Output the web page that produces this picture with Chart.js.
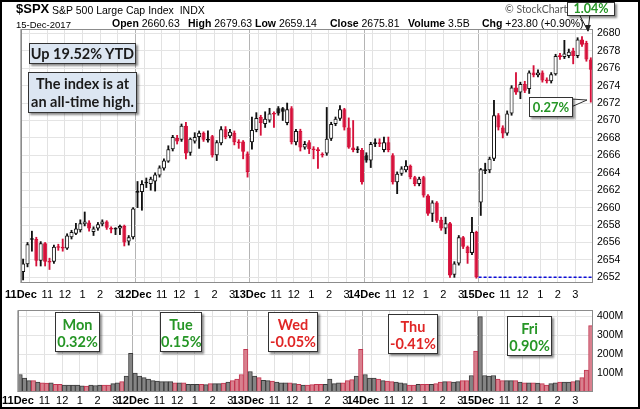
<!DOCTYPE html>
<html>
<head>
<meta charset="utf-8">
<script src="https://cdn.jsdelivr.net/npm/chart.js@4.4.1/dist/chart.umd.min.js"></script>
<style>
html, body { margin: 0; padding: 0; background: #fff; }
#wrap { position: relative; width: 640px; height: 409px; overflow: hidden; font-family: 'Liberation Sans', Arial, sans-serif; color: #000; }
#frame { position: absolute; left: 0; top: 0; width: 636px; height: 405px; border: 2px solid #000; pointer-events: none; }
canvas { position: absolute; left: 0; }
.t { position: absolute; white-space: nowrap; line-height: 1; }
.t b { font-weight: bold; }
.box { position: absolute; background: #fff; border: 1px solid #333; box-shadow: 2px 2px 2px rgba(0,0,0,.45);
       font-family: Lato, sans-serif; font-weight: bold; text-align: center; box-sizing: border-box; white-space: nowrap; }
.blue { background: #dce6f2; color: #1a1a1a; font-size: 14.5px; }
.day { font-size: 14.5px; line-height: 17px; padding-top: 3px; }
.up { color: #269626; }
.down { color: #e02626; }
svg { position: absolute; left: 0; top: 0; }
</style>
</head>
<body>
<div id="wrap">
  <canvas id="priceChart" width="640" height="300" style="top:0"></canvas>
  <canvas id="volChart" width="640" height="109" style="top:300px"></canvas>

  <div class="t" style="left:16px;top:2px;font-size:13px;font-weight:bold">$SPX</div>
  <div class="t" style="left:52px;top:4.5px;font-size:10.5px">S&amp;P 500 Large Cap Index&nbsp; INDX</div>
  <div class="t" style="left:16px;top:19.5px;font-size:9.5px">15-Dec-2017</div>
  <div class="t" style="left:112px;top:18px;font-size:10.5px"><b>Open</b> 2660.63</div>
  <div class="t" style="left:188px;top:18px;font-size:10.5px"><b>High</b> 2679.63</div>
  <div class="t" style="left:255px;top:18px;font-size:10.5px"><b>Low</b> 2659.14</div>
  <div class="t" style="left:330px;top:18px;font-size:10.5px"><b>Close</b> 2675.81</div>
  <div class="t" style="left:408px;top:18px;font-size:10.5px"><b>Volume</b> 3.5B</div>
  <div class="t" style="left:482px;top:18px;font-size:10.5px"><b>Chg</b> +23.80 (+0.90%)</div>
  <div class="t" style="left:505px;top:4px;font-size:10.5px;font-family:Lato,sans-serif;color:#555">&copy; StockCharts.com</div>

  <svg width="640" height="409">
    <polygon points="579,14 590,14 588,31" fill="#fff" stroke="#222" stroke-width="1"/>
    <polygon points="585,25 591,25 588,32" fill="#222"/>
    <polygon points="571,99 587,100 571,107" fill="#fff" stroke="#333" stroke-width="1"/>
  </svg>

  <div class="box up" style="left:567px;top:2px;width:48px;height:14px;font-size:12.5px;line-height:12px">1.04%</div>
  <div class="box up" style="left:529px;top:97px;width:44px;height:20px;font-size:13px;line-height:18px">0.27%</div>

  <div class="box blue" style="left:29px;top:43px;width:107px;height:21px;line-height:19px">Up 19.52% YTD</div>
  <div class="box blue" style="left:28px;top:72px;width:109px;height:41px;line-height:18px;padding-top:2px">The index is at<br>an all-time high.</div>

  <div class="box day up" style="left:55px;top:312px;width:45px;height:40px">Mon<br>0.32%</div>
  <div class="box day up" style="left:160px;top:312px;width:42px;height:40px">Tue<br>0.15%</div>
  <div class="box day down" style="left:268px;top:312px;width:50px;height:40px">Wed<br>-0.05%</div>
  <div class="box day down" style="left:388px;top:314px;width:50px;height:40px">Thu<br>-0.41%</div>
  <div class="box day up" style="left:507px;top:316px;width:45px;height:40px">Fri<br>0.90%</div>

  <div id="frame"></div>
</div>

<script>
// 15-minute bars, 26 per session, 11-15 Dec 2017
const priorClose = 2651.50;   // Friday 8 Dec close

const opens = [
    2652.6, 2653.5, 2656.3, 2656.4, 2653.9, 2655.9, 2653.9, 2653.8, 2655.5, 2655.5, 2655.3, 2656.6, 2657.0,
    2657.4, 2658.1, 2658.3, 2657.2, 2657.6, 2658.1, 2658.4, 2657.7, 2657.6, 2657.6, 2657.9, 2656.1, 2656.6,
    2661.7, 2661.8, 2662.8, 2662.7, 2663.0, 2663.7, 2664.5, 2665.3, 2666.7, 2668.0, 2667.8, 2669.4, 2666.3,
    2667.6, 2668.1, 2668.6, 2667.7, 2668.2, 2666.0, 2667.4, 2669.0, 2668.2, 2668.6, 2667.6, 2667.6, 2666.2,
    2667.5, 2668.9, 2670.4, 2669.6, 2670.0, 2670.8, 2671.4, 2671.4, 2669.7, 2671.4, 2667.5, 2668.8, 2666.9,
    2667.5, 2666.8, 2666.7, 2666.0, 2666.2, 2667.9, 2669.6, 2670.2, 2671.3, 2669.2, 2666.9, 2666.8, 2666.6,
    2666.0, 2665.4, 2667.3, 2667.5, 2666.6, 2667.5, 2666.0, 2662.9, 2663.9, 2664.3, 2664.8, 2663.5, 2662.7,
    2663.5, 2661.4, 2659.3, 2660.6, 2658.6, 2657.6, 2658.2, 2652.3, 2653.6, 2656.6, 2655.5, 2654.8, 2657.2,
    2660.6, 2664.2, 2664.3, 2665.6, 2670.6, 2669.2, 2668.5, 2670.8, 2673.8, 2673.2, 2674.2, 2673.6, 2675.5,
    2675.2, 2675.5, 2674.7, 2674.5, 2675.3, 2677.5, 2677.3, 2677.4, 2678.0, 2677.4, 2679.3, 2678.9, 2677.0
];
const highs = [
    2654.1, 2656.0, 2657.3, 2656.6, 2656.1, 2656.0, 2654.2, 2655.7, 2655.8, 2656.4, 2657.0, 2657.4, 2658.2,
    2658.6, 2659.5, 2658.5, 2657.8, 2658.3, 2658.6, 2658.5, 2657.8, 2657.7, 2658.0, 2658.0, 2656.8, 2660.0,
    2663.0, 2663.1, 2663.4, 2663.5, 2664.0, 2664.8, 2665.6, 2667.1, 2668.3, 2668.3, 2669.6, 2669.8, 2668.0,
    2668.6, 2668.8, 2668.7, 2668.8, 2668.3, 2667.7, 2669.3, 2669.3, 2669.0, 2668.8, 2667.8, 2667.7, 2666.4,
    2670.4, 2670.9, 2670.6, 2671.0, 2671.4, 2671.0, 2671.6, 2671.5, 2672.0, 2671.6, 2669.0, 2669.0, 2667.6,
    2667.7, 2667.0, 2666.9, 2666.3, 2671.5, 2669.8, 2670.4, 2671.7, 2671.4, 2670.3, 2670.0, 2667.0, 2666.8,
    2666.3, 2667.5, 2667.9, 2667.9, 2668.1, 2668.1, 2666.2, 2664.1, 2664.7, 2665.4, 2664.9, 2663.6, 2663.5,
    2663.6, 2661.5, 2660.8, 2660.7, 2658.9, 2658.9, 2658.3, 2653.8, 2656.8, 2656.7, 2655.6, 2658.9, 2657.3,
    2664.5, 2665.1, 2665.8, 2672.3, 2670.8, 2669.4, 2671.1, 2674.0, 2675.5, 2674.4, 2674.5, 2675.7, 2676.3,
    2675.8, 2675.7, 2674.9, 2675.5, 2677.6, 2677.7, 2679.2, 2678.2, 2678.3, 2679.5, 2679.63, 2679.1, 2677.2
];
const lows = [
    2651.7, 2653.2, 2655.0, 2653.3, 2653.3, 2653.3, 2652.9, 2653.6, 2655.1, 2655.0, 2655.2, 2656.4, 2656.9,
    2657.2, 2657.9, 2657.3, 2656.8, 2657.4, 2657.9, 2657.5, 2657.1, 2656.9, 2656.9, 2655.6, 2655.7, 2656.4,
    2660.0, 2659.7, 2662.3, 2662.0, 2661.9, 2663.5, 2664.3, 2665.2, 2666.5, 2667.3, 2667.6, 2665.6, 2666.0,
    2667.4, 2666.8, 2667.6, 2667.5, 2665.8, 2665.4, 2667.2, 2667.9, 2668.0, 2667.2, 2666.8, 2665.6, 2663.5,
    2666.7, 2668.7, 2668.3, 2669.2, 2669.8, 2669.2, 2670.6, 2670.0, 2669.5, 2667.3, 2667.2, 2666.5, 2666.7,
    2666.2, 2665.6, 2664.5, 2665.8, 2666.0, 2667.7, 2669.4, 2670.0, 2668.9, 2666.8, 2666.4, 2666.3, 2662.7,
    2665.2, 2664.6, 2667.0, 2667.0, 2666.4, 2666.4, 2662.7, 2661.6, 2663.7, 2664.1, 2663.3, 2662.5, 2662.5,
    2661.2, 2659.1, 2658.4, 2658.3, 2657.4, 2657.0, 2652.0, 2652.0, 2653.4, 2655.3, 2653.6, 2654.6, 2651.9,
    2659.1, 2663.9, 2664.0, 2665.4, 2668.9, 2668.0, 2668.3, 2670.6, 2673.0, 2672.5, 2673.2, 2673.1, 2675.0,
    2675.0, 2674.4, 2674.3, 2674.3, 2675.2, 2677.0, 2677.1, 2677.2, 2676.5, 2677.2, 2678.5, 2676.8, 2672.1
];
const closes = [
    2653.6, 2655.8, 2656.4, 2653.9, 2655.9, 2653.8, 2653.7, 2655.5, 2655.4, 2655.3, 2656.8, 2657.2, 2657.6,
    2658.2, 2658.4, 2657.6, 2657.6, 2658.1, 2658.4, 2657.7, 2657.5, 2657.5, 2657.9, 2656.0, 2656.6, 2659.9,
    2661.9, 2662.7, 2662.9, 2663.3, 2663.8, 2664.6, 2665.4, 2666.7, 2668.1, 2667.6, 2669.4, 2666.2, 2667.9,
    2668.1, 2668.6, 2667.8, 2667.9, 2666.0, 2667.5, 2669.0, 2668.1, 2668.7, 2667.5, 2667.4, 2666.4, 2664.1,
    2668.9, 2670.3, 2669.7, 2670.2, 2670.8, 2670.7, 2670.8, 2671.0, 2671.3, 2667.5, 2668.8, 2666.9, 2667.3,
    2666.7, 2666.6, 2666.5, 2666.1, 2667.9, 2669.6, 2670.2, 2671.3, 2669.2, 2666.9, 2666.6, 2666.6, 2662.9,
    2665.4, 2667.3, 2667.5, 2667.3, 2667.5, 2666.6, 2662.9, 2663.9, 2664.5, 2664.8, 2663.5, 2662.7, 2663.3,
    2661.4, 2659.3, 2660.6, 2658.5, 2657.6, 2658.2, 2652.2, 2653.6, 2656.6, 2655.5, 2654.8, 2657.2, 2652.01,
    2664.4, 2664.4, 2665.6, 2670.6, 2669.2, 2668.5, 2670.8, 2673.8, 2673.2, 2674.2, 2673.4, 2675.5, 2675.2,
    2675.5, 2674.6, 2674.5, 2675.3, 2677.4, 2677.3, 2677.7, 2677.9, 2677.4, 2679.3, 2678.7, 2677.0, 2675.81
];
// volume, millions of shares
const volumes = [
    92, 73, 60, 60, 52, 48, 47, 48, 41, 41, 36, 36, 36, 36, 33, 31, 36, 34, 36, 36, 37, 44, 48, 55, 84, 204,
    100, 84, 76, 68, 60, 57, 55, 55, 55, 48, 48, 48, 41, 41, 41, 41, 39, 44, 44, 44, 47, 52, 60, 68, 92, 224,
    108, 84, 76, 62, 60, 57, 52, 48, 48, 48, 44, 41, 36, 36, 39, 41, 41, 41, 68, 44, 48, 48, 60, 65, 84, 224,
    92, 73, 73, 68, 60, 57, 55, 52, 48, 44, 36, 36, 41, 41, 41, 41, 44, 52, 55, 55, 52, 55, 60, 60, 87, 216,
    397, 87, 84, 87, 68, 60, 60, 60, 60, 52, 48, 48, 48, 47, 44, 36, 44, 48, 52, 52, 52, 55, 60, 76, 116, 349
];

const dayLabels = ['11Dec', '12Dec', '13Dec', '14Dec', '15Dec'];
const hourLabels = ['', '11', '12', '1', '2', '3'];   // 10:00 gets a grid line only
const hourBars = [2, 6, 10, 14, 18, 22];             // bars after the 9:30 open
const barsPerDay = 26;
const priceTicks = [2652, 2654, 2656, 2658, 2660, 2662, 2664, 2666, 2668, 2670, 2672, 2674, 2676, 2678, 2680];
const volumeTicks = [100, 200, 300, 400];

// previous session close, marked with the dashed line on the last day
const lastDayStart = barsPerDay * 4;
const prevDayClose = closes[lastDayStart - 1];

const RED = '#d6103a';
const BLACK = '#111111';
const FONT = "'Liberation Sans', Arial, sans-serif";

const prevCloses = closes.map((c, i) => i === 0 ? priorClose : closes[i - 1]);
const candleColor = closes.map((c, i) => c < prevCloses[i] ? RED : BLACK);
const bodyFill = closes.map((c, i) => c >= opens[i] ? '#ffffff' : candleColor[i]);
const volFill = candleColor.map(c => c === RED ? '#d9808e' : '#858585');
const volBorder = candleColor.map(c => c === RED ? '#c23550' : '#3c3c3c');

// x axis ticks: day starts (bold) and hours
const xTicks = [];
dayLabels.forEach((d, di) => {
    xTicks.push({ value: di * barsPerDay, label: d, major: true });
    hourBars.forEach((h, hi) => {
        xTicks.push({ value: di * barsPerDay + h, label: hourLabels[hi], major: false });
    });
});
const labelAt = {};
xTicks.forEach(t => { labelAt[t.value] = t.label; });

function xScale(labelPad) {
    return {
        type: 'linear',
        min: 0,
        max: barsPerDay * dayLabels.length,
        offset: false,
        afterBuildTicks: s => { s.ticks = xTicks.map(t => ({ value: t.value, major: t.major })); },
        afterFit: s => { s.height = 17; },
        grid: {
            offset: false,
            drawTicks: false,
            color: ctx => ctx.tick && ctx.tick.major ? '#b4b4b4' : '#e2e2e2'
        },
        border: { display: false },
        ticks: {
            autoSkip: false,
            maxRotation: 0,
            padding: labelPad,
            color: '#000',
            font: ctx => ({ family: FONT, size: 11, weight: ctx.tick && ctx.tick.major ? 'bold' : 'normal' }),
            callback: v => labelAt[v] !== undefined ? labelAt[v] : ''
        }
    };
}

const framePlugin = {
    id: 'frame',
    afterDraw(chart) {
        const { ctx, chartArea: a } = chart;
        ctx.save();
        ctx.strokeStyle = '#8c8c8c';
        ctx.lineWidth = 1;
        ctx.strokeRect(Math.round(a.left) + 0.5, Math.round(a.top) + 0.5,
            Math.round(a.right - a.left) - 1, Math.round(a.bottom - a.top) - 1);
        ctx.restore();
    }
};

const common = {
    responsive: false,
    animation: false,
    events: [],
    plugins: { legend: { display: false }, tooltip: { enabled: false } }
};

new Chart(document.getElementById('priceChart').getContext('2d'), {
    type: 'bar',
    data: {
        datasets: [
            {
                label: 'Body',
                data: opens.map((o, i) => ({ x: i + 0.5, y: [o, closes[i]] })),
                backgroundColor: bodyFill,
                borderColor: candleColor,
                borderWidth: 1,
                borderSkipped: false,
                barPercentage: 0.92,
                categoryPercentage: 1,
                minBarLength: 1.5,
                grouped: false,
                order: 0
            },
            {
                label: 'Wick',
                data: lows.map((l, i) => ({ x: i + 0.5, y: [l, highs[i]] })),
                backgroundColor: candleColor,
                borderWidth: 0,
                barThickness: 1.2,
                grouped: false,
                order: 1
            },
            {
                type: 'line',
                label: 'Prev close',
                data: [{ x: lastDayStart, y: prevDayClose }, { x: barsPerDay * dayLabels.length, y: prevDayClose }],
                borderColor: '#0a0ad8',
                borderWidth: 1.3,
                borderDash: [3, 2],
                pointRadius: 0,
                order: 2
            }
        ]
    },
    options: {
        ...common,
        layout: { padding: { left: 17, top: 29, right: 0, bottom: 0 } },
        scales: {
            x: xScale(5),
            y: {
                type: 'linear',
                position: 'right',
                min: 2651.35,
                max: 2680.5,
                afterBuildTicks: s => { s.ticks = priceTicks.map(v => ({ value: v })); },
                afterFit: s => { s.width = 47; },
                grid: { color: '#e4e4e4', drawTicks: false },
                border: { display: false },
                ticks: { padding: 4, color: '#000', font: { family: FONT, size: 10.5 }, callback: v => String(v) }
            }
        }
    },
    plugins: [framePlugin]
});

new Chart(document.getElementById('volChart').getContext('2d'), {
    type: 'bar',
    data: {
        datasets: [{
            label: 'Volume',
            data: volumes.map((v, i) => ({ x: i + 0.5, y: v })),
            backgroundColor: volFill,
            borderColor: volBorder,
            borderWidth: 1,
            borderSkipped: false,
            barPercentage: 1,
            categoryPercentage: 1
        }]
    },
    options: {
        ...common,
        layout: { padding: { left: 17, top: 2, right: 0, bottom: 0 } },
        scales: {
            x: xScale(2),
            y: {
                type: 'linear',
                position: 'right',
                min: 0,
                max: 430,
                afterBuildTicks: s => { s.ticks = volumeTicks.map(v => ({ value: v })); },
                afterFit: s => { s.width = 47; },
                grid: { color: '#e4e4e4', drawTicks: false },
                border: { display: false },
                ticks: { padding: 4, color: '#000', font: { family: FONT, size: 10.5 }, callback: v => v + 'M' }
            }
        }
    },
    plugins: [framePlugin]
});
</script>
</body>
</html>
